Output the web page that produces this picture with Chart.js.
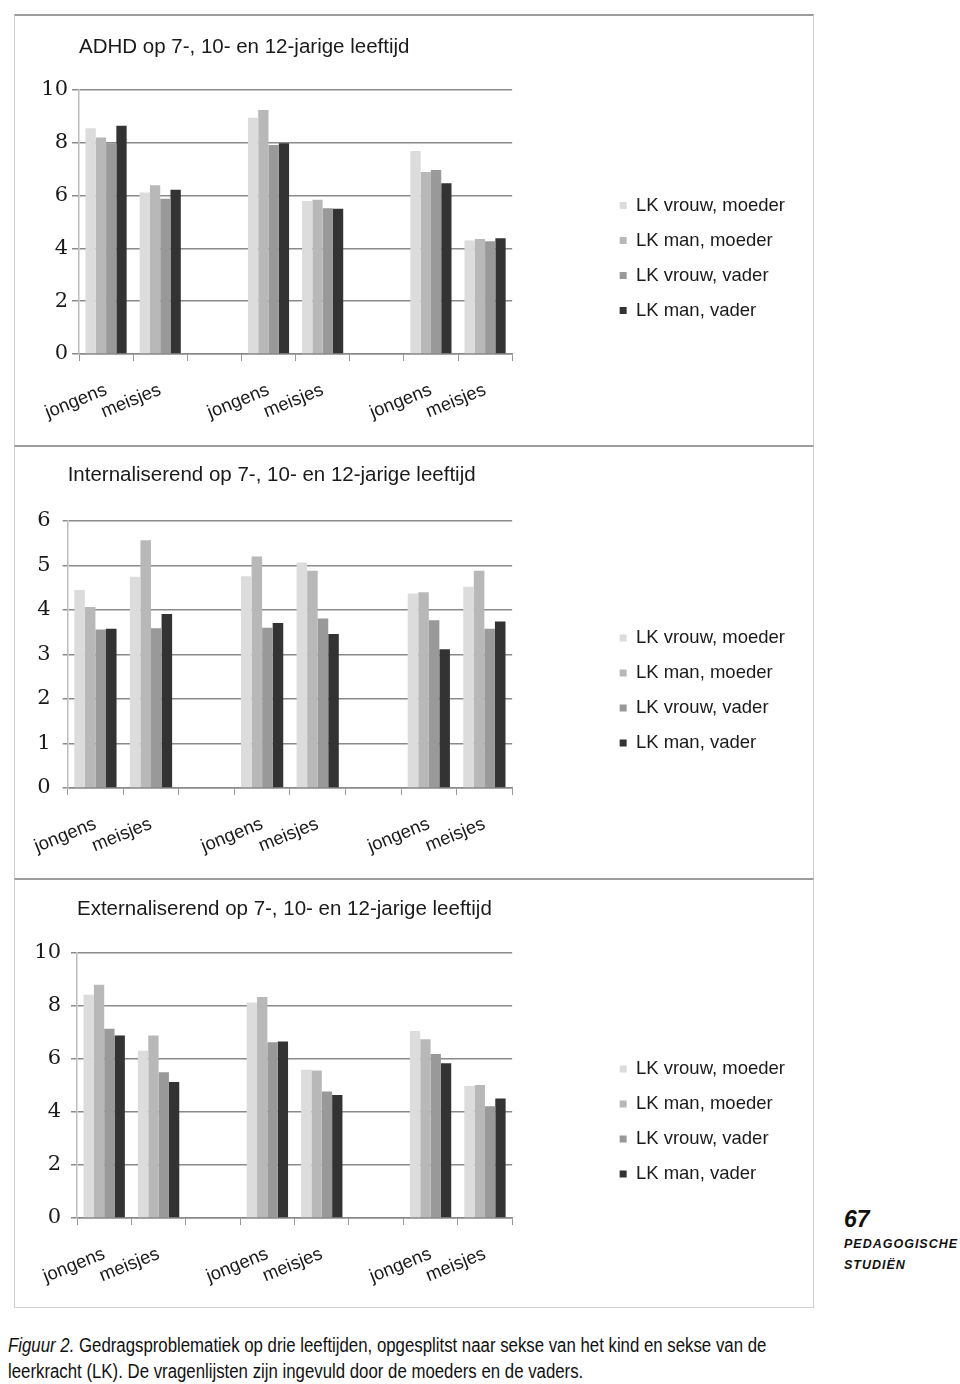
<!DOCTYPE html>
<html lang="nl">
<head>
<meta charset="utf-8">
<title>Figuur 2</title>
<script src="https://cdn.jsdelivr.net/npm/chart.js@4.4.1/dist/chart.umd.min.js"></script>
<style>
  html, body { margin: 0; padding: 0; background: #fff; }
  body { position: relative; width: 960px; height: 1384px; overflow: hidden; font-family: 'Liberation Sans', Arial, sans-serif; color: #1a1a1a; }
  .frame { position: absolute; left: 14px; width: 800px; box-sizing: border-box; border-left: 1px solid #cfcfcf; border-right: 1px solid #cfcfcf; border-top: 2px solid #9c9c9c; }
  canvas { position: absolute; left: 14px; }
  .mag { position: absolute; left: 844px; font-weight: bold; font-style: italic; color: #111; white-space: nowrap; }
  .caption { position: absolute; left: 8px; font-size: 20px; color: #111; white-space: nowrap; transform: scaleX(0.84); transform-origin: left top; }
</style>
</head>
<body>
<div class="frame" style="top:14px;height:431px"></div>
<div class="frame" style="top:445px;height:433px"></div>
<div class="frame" style="top:878px;height:430px;border-bottom:1px solid #cfcfcf"></div>

<canvas id="adhd" width="799" height="431" style="top:14px"></canvas>
<canvas id="internal" width="799" height="433" style="top:445px"></canvas>
<canvas id="external" width="799" height="429" style="top:878px"></canvas>

<div class="mag" style="top:1206px;font-size:23px">67</div>
<div class="mag" style="top:1237px;font-size:12.5px;letter-spacing:1px">PEDAGOGISCHE</div>
<div class="mag" style="top:1258px;font-size:12.5px;letter-spacing:1px">STUDIËN</div>

<div class="caption" style="top:1334px"><i>Figuur 2.</i> Gedragsproblematiek op drie leeftijden, opgesplitst naar sekse van het kind en sekse van de</div>
<div class="caption" style="top:1360px">leerkracht (LK). De vragenlijsten zijn ingevuld door de moeders en de vaders.</div>

<script>
const categories = ['jongens', 'meisjes', '', 'jongens', 'meisjes', '', 'jongens', 'meisjes'];
const seriesNames = ['LK vrouw, moeder', 'LK man, moeder', 'LK vrouw, vader', 'LK man, vader'];
const seriesColors = ['#dcdcdc', '#b8b8b8', '#999999', '#333333'];

// ADHD (lege categorieen = ruimte tussen leeftijden)
const adhdVrouwMoeder = [8.55, 6.12, null, 8.95, 5.80, null, 7.69, 4.30];
const adhdManMoeder   = [8.20, 6.39, null, 9.24, 5.84, null, 6.89, 4.36];
const adhdVrouwVader  = [7.98, 5.88, null, 7.92, 5.52, null, 6.97, 4.27];
const adhdManVader    = [8.65, 6.22, null, 7.98, 5.50, null, 6.47, 4.38];

// Internaliserend
const intVrouwMoeder = [4.45, 4.75, null, 4.76, 5.07, null, 4.37, 4.52];
const intManMoeder   = [4.07, 5.57, null, 5.20, 4.88, null, 4.40, 4.88];
const intVrouwVader  = [3.56, 3.59, null, 3.60, 3.81, null, 3.77, 3.58];
const intManVader    = [3.58, 3.91, null, 3.71, 3.46, null, 3.12, 3.74];

// Externaliserend
const extVrouwMoeder = [8.42, 6.31, null, 8.13, 5.59, null, 7.06, 4.98];
const extManMoeder   = [8.80, 6.89, null, 8.34, 5.57, null, 6.75, 5.02];
const extVrouwVader  = [7.14, 5.50, null, 6.63, 4.77, null, 6.19, 4.22];
const extManVader    = [6.89, 5.13, null, 6.66, 4.64, null, 5.84, 4.51];

Chart.defaults.font.family = "'Liberation Sans', Arial, sans-serif";
Chart.defaults.color = '#1a1a1a';
Chart.defaults.animation = false;

// legend zakt iets onder het midden van de plot (zoals in Excel)
const legendDrop = {
  id: 'legendDrop',
  afterLayout(chart) {
    chart.legend.top += 36;
    chart.legend.bottom += 36;
  }
};

function makeChart(id, title, series, yMax, yStep, box) {
  const datasets = series.map((values, i) => ({
    label: seriesNames[i],
    data: values,
    backgroundColor: seriesColors[i],
    borderWidth: 0,
    categoryPercentage: 0.76,
    barPercentage: 1.0
  }));

  new Chart(document.getElementById(id), {
    type: 'bar',
    data: { labels: categories, datasets: datasets },
    options: {
      responsive: false,
      layout: { padding: { left: 10, right: 18, top: 0, bottom: 0 } },
      plugins: {
        title: {
          display: true,
          text: title,
          align: 'start',
          fullSize: false,
          color: '#1a1a1a',
          font: { size: 20.5, weight: 'normal' },
          padding: { top: box.titleTop, bottom: box.titleBottom }
        },
        legend: {
          position: 'right',
          fullSize: false,
          align: 'center',
          maxWidth: 300,
          labels: {
            boxWidth: 7,
            boxHeight: 7,
            padding: 16.5,
            color: '#1a1a1a',
            font: { size: 18.5 }
          }
        },
        tooltip: { enabled: false }
      },
      scales: {
        x: {
          grid: { drawOnChartArea: false, offset: true, tickLength: 7, color: '#999999' },
          border: { display: true, color: '#8a8a8a', width: 1.5 },
          ticks: {
            autoSkip: false,
            minRotation: 22,
            maxRotation: 22,
            padding: 18,
            color: '#1a1a1a',
            font: { size: 18.5 }
          },
          afterFit(s) { s.height = box.xHeight; }
        },
        y: {
          min: 0,
          max: yMax,
          ticks: {
            stepSize: yStep,
            padding: box.tickPad,
            color: '#1a1a1a',
            font: { family: "'DejaVu Serif', 'Liberation Serif', serif", size: 21 }
          },
          grid: { color: '#8a8a8a', lineWidth: 1.5, tickLength: box.tickLen },
          border: { color: '#bdbdbd', width: 1.5 },
          afterFit(s) { s.width = box.yWidth; }
        },
        gap: {
          type: 'linear',
          position: 'right',
          display: true,
          grid: { display: false },
          ticks: { display: false },
          border: { display: false },
          afterFit(s) { s.width = 91; }
        }
      }
    },
    plugins: [legendDrop]
  });
}

makeChart('adhd', 'ADHD op 7-, 10- en 12-jarige leeftijd',
  [adhdVrouwMoeder, adhdManMoeder, adhdVrouwVader, adhdManVader], 10, 2,
  { yWidth: 55, tickPad: 4, tickLen: 7, xHeight: 91, titleTop: 21, titleBottom: 30.4 });

makeChart('internal', 'Internaliserend op 7-, 10- en 12-jarige leeftijd',
  [intVrouwMoeder, intManMoeder, intVrouwVader, intManVader], 6, 1,
  { yWidth: 43, tickPad: 12, tickLen: 5, xHeight: 90, titleTop: 18, titleBottom: 33.4 });

makeChart('external', 'Externaliserend op 7-, 10- en 12-jarige leeftijd',
  [extVrouwMoeder, extManMoeder, extVrouwVader, extManVader], 10, 2,
  { yWidth: 53, tickPad: 10, tickLen: 6, xHeight: 89, titleTop: 19, titleBottom: 31.4 });
</script>
</body>
</html>
